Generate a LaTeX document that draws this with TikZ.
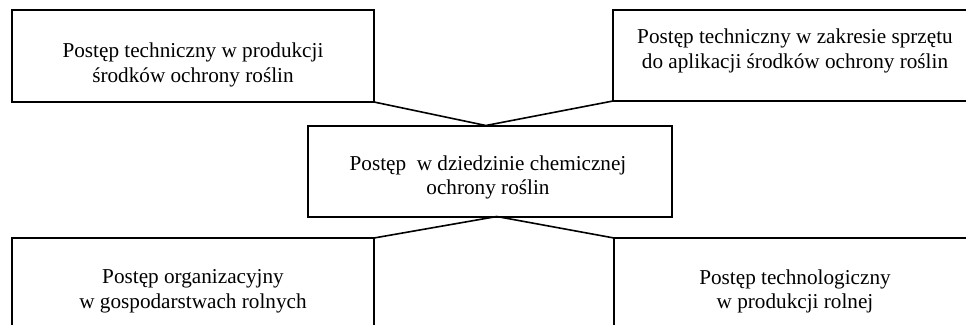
\documentclass[tikz,border=0pt]{standalone}
\usepackage{fontspec}
\setmainfont{Liberation Serif}
\usetikzlibrary{calc}
\begin{document}
\begin{tikzpicture}[x=1pt,y=-1pt,
  boxnode/.style={draw=black,line width=2pt,rectangle,inner sep=0pt,outer sep=0pt},
  txtnode/.style={inner sep=0pt,align=center,font=\fontsize{21.2}{24.5}\selectfont},
  link/.style={draw=black,line width=1.6pt}]
\useasboundingbox (0,0) rectangle (966,324);
\clip (0,0) rectangle (966,324);
\node[boxnode,minimum width=362pt,minimum height=92pt] (tl) at (193,56) {};
\node[boxnode,minimum width=362pt,minimum height=91pt] (tr) at (794,55.5) {};
\node[boxnode,minimum width=364pt,minimum height=91pt] (c) at (489.5,171) {};
\node[boxnode,minimum width=362pt,minimum height=92pt] (bl) at (193,284) {};
\node[boxnode,minimum width=362pt,minimum height=92pt] (br) at (795,284) {};
\node[txtnode] (tlt) at (193,65) {Postęp techniczny w produkcji\\środków ochrony roślin};
\node[txtnode] (trt) at (795,51) {Postęp techniczny w zakresie sprzętu\\do aplikacji środków ochrony roślin};
\node[txtnode] (ct) at (488,177.5) {Postęp\ \ w dziedzinie chemicznej\\ochrony roślin};
\node[txtnode] (blt) at (193,291.5) {Postęp organizacyjny\\w gospodarstwach rolnych};
\node[txtnode] (brt) at (795,291.5) {Postęp technologiczny\\w produkcji rolnej};
\coordinate (ctop) at ($(c.north west)!0.49!(c.north east)$);
\coordinate (cbot) at ($(c.south west)!0.52!(c.south east)$);
\draw[link] (tl.south east) -- (ctop) -- (tr.south west);
\draw[link] (bl.north east) -- (cbot) -- (br.north west);
\end{tikzpicture}
\end{document}
